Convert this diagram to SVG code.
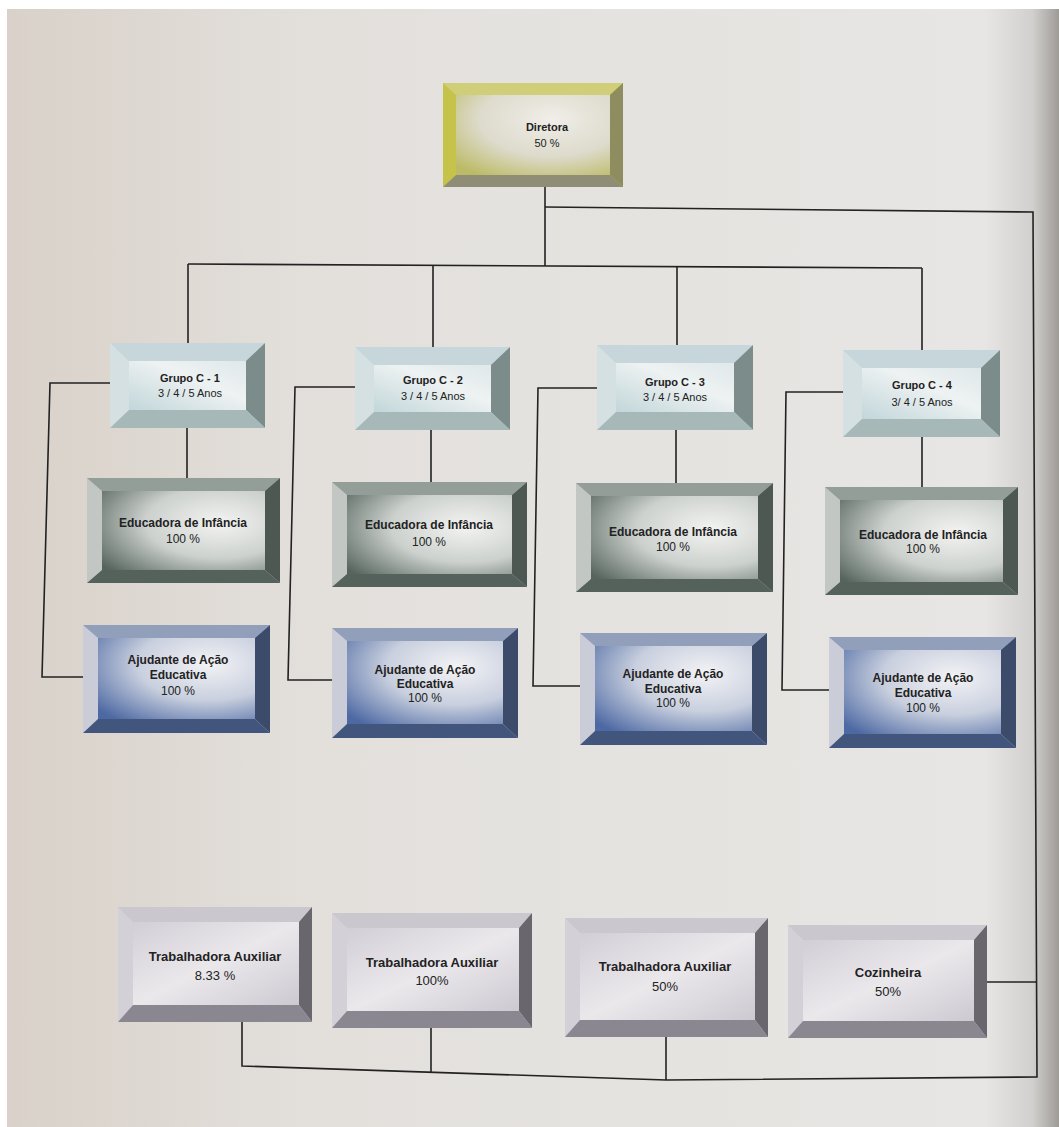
<svg xmlns="http://www.w3.org/2000/svg" width="1059" height="1127" viewBox="0 0 1059 1127">
<defs>
<linearGradient id="paper" gradientUnits="userSpaceOnUse" x1="0" y1="0" x2="1059" y2="0">
<stop offset="0" stop-color="#d9d1c9"/>
<stop offset="0.3" stop-color="#e3e0dc"/>
<stop offset="0.93" stop-color="#e7e6e4"/>
<stop offset="0.975" stop-color="#d2d0ce"/>
<stop offset="1" stop-color="#9e9b97"/>
</linearGradient>
<radialGradient id="gDir" cx="0.62" cy="0.3" r="0.85">
<stop offset="0" stop-color="#f0eee8"/>
<stop offset="0.55" stop-color="#dddbcc"/>
<stop offset="1" stop-color="#bcba64"/>
</radialGradient>
<linearGradient id="gGrp" x1="0" y1="1" x2="1" y2="0">
<stop offset="0" stop-color="#c2d6da"/>
<stop offset="0.6" stop-color="#eef2f2"/>
<stop offset="1" stop-color="#dfe8ea"/>
</linearGradient>
<radialGradient id="gEdu" cx="0.72" cy="0.4" r="0.9">
<stop offset="0" stop-color="#f4f4f2"/>
<stop offset="0.5" stop-color="#ccd1ce"/>
<stop offset="1" stop-color="#56645d"/>
</radialGradient>
<radialGradient id="gAju" cx="0.7" cy="0.32" r="0.9">
<stop offset="0" stop-color="#f3f3f5"/>
<stop offset="0.5" stop-color="#c8cfde"/>
<stop offset="1" stop-color="#4d69a3"/>
</radialGradient>
<linearGradient id="gTrab" x1="0" y1="0" x2="1" y2="1">
<stop offset="0" stop-color="#d2ced6"/>
<stop offset="0.5" stop-color="#ebe8ec"/>
<stop offset="1" stop-color="#cdc9d1"/>
</linearGradient>
<style>
.t{font-family:"Liberation Sans",Arial,sans-serif;font-size:11px;fill:#222;text-anchor:middle}
.m{font-size:12px}
.l{font-size:13px}
.b{font-weight:bold}
.ln{fill:none;stroke:#222;stroke-width:1.6}
.dir .o{fill:#c5c34a}.dir .tp{fill:#d0ce78}.dir .rt{fill:#8e8d60}.dir .bt{fill:#8f8d76}.dir .in{fill:url(#gDir)}
.grp .o{fill:#d4e0e2}.grp .tp{fill:#c6d6da}.grp .rt{fill:#7c8c8a}.grp .bt{fill:#a6b8b8}.grp .in{fill:url(#gGrp)}
.edu .o{fill:#c2c7c4}.edu .tp{fill:#939e98}.edu .rt{fill:#4e5853}.edu .bt{fill:#54625b}.edu .in{fill:url(#gEdu)}
.aju .o{fill:#cacdd8}.aju .tp{fill:#919fbb}.aju .rt{fill:#3d4b6b}.aju .bt{fill:#42567d}.aju .in{fill:url(#gAju)}
.trb .o{fill:#d4d0d8}.trb .tp{fill:#cbc7ce}.trb .rt{fill:#6a666e}.trb .bt{fill:#8b8790}.trb .in{fill:url(#gTrab)}
</style>
</defs>
<rect width="1059" height="1127" fill="#ffffff"/>
<rect x="7" y="9" width="1052" height="1118" fill="url(#paper)"/>

<g id="connectors">
<path class="ln" d="M545,187 V266"/>
<path class="ln" d="M188,264 L922,268"/>
<path class="ln" d="M188,264 V343 M433,265 V347 M677,266 V345 M922,268 V350"/>
<path class="ln" d="M187,428 V478 M431,430 V482 M676,430 V483 M922,437 V487"/>
<path class="ln" d="M110,383 H50 L42,677 H83"/>
<path class="ln" d="M355,387 H295 L288,680 H332"/>
<path class="ln" d="M597,388 H538 L533,686 H580"/>
<path class="ln" d="M843,392 H786 L782,690 H829"/>
<path class="ln" d="M545,207 L1033,212 L1037,1077 L666,1080 L242,1066 V1022"/>
<path class="ln" d="M987,982 H1036"/>
<path class="ln" d="M431,1028 V1072 M666,1037 V1080"/>
</g>

<g id="n-diretora" class="dir">
<rect class="o" x="443" y="83" width="180" height="104"/>
<polygon class="tp" points="443,83 623,83 610,95 456,95"/>
<polygon class="rt" points="623,83 623,187 610,175 610,95"/>
<polygon class="bt" points="443,187 623,187 610,175 456,175"/>
<rect class="in" x="456" y="95" width="154" height="80"/>
<text class="t b" x="547" y="131">Diretora</text>
<text class="t" x="547" y="147">50 %</text>
</g>

<g id="n-grupo1" class="grp">
<rect class="o" x="110" y="343" width="155" height="85"/>
<polygon class="tp" points="110,343 265,343 246,361 129,361"/>
<polygon class="rt" points="265,343 265,428 246,410 246,361"/>
<polygon class="bt" points="110,428 265,428 246,410 129,410"/>
<rect class="in" x="129" y="361" width="117" height="49"/>
<text class="t b" x="190" y="382">Grupo C - 1</text>
<text class="t" x="190" y="397">3 / 4 / 5 Anos</text>
</g>
<g id="n-grupo2" class="grp">
<rect class="o" x="355" y="347" width="155" height="83"/>
<polygon class="tp" points="355,347 510,347 491,365 374,365"/>
<polygon class="rt" points="510,347 510,430 491,412 491,365"/>
<polygon class="bt" points="355,430 510,430 491,412 374,412"/>
<rect class="in" x="374" y="365" width="117" height="47"/>
<text class="t b" x="433" y="384">Grupo C - 2</text>
<text class="t" x="433" y="400">3 / 4 / 5 Anos</text>
</g>
<g id="n-grupo3" class="grp">
<rect class="o" x="597" y="345" width="156" height="85"/>
<polygon class="tp" points="597,345 753,345 734,363 616,363"/>
<polygon class="rt" points="753,345 753,430 734,412 734,363"/>
<polygon class="bt" points="597,430 753,430 734,412 616,412"/>
<rect class="in" x="616" y="363" width="118" height="49"/>
<text class="t b" x="675" y="386">Grupo C - 3</text>
<text class="t" x="675" y="401">3 / 4 / 5 Anos</text>
</g>
<g id="n-grupo4" class="grp">
<rect class="o" x="843" y="350" width="157" height="87"/>
<polygon class="tp" points="843,350 1000,350 981,368 862,368"/>
<polygon class="rt" points="1000,350 1000,437 981,419 981,368"/>
<polygon class="bt" points="843,437 1000,437 981,419 862,419"/>
<rect class="in" x="862" y="368" width="119" height="51"/>
<text class="t b" x="922" y="389">Grupo C - 4</text>
<text class="t" x="922" y="406">3/ 4 / 5 Anos</text>
</g>

<g id="n-edu1" class="edu">
<rect class="o" x="87" y="478" width="193" height="105"/>
<polygon class="tp" points="87,478 280,478 265,491 102,491"/>
<polygon class="rt" points="280,478 280,583 265,570 265,491"/>
<polygon class="bt" points="87,583 280,583 265,570 102,570"/>
<rect class="in" x="102" y="491" width="163" height="79"/>
<text class="t m b" x="183" y="527">Educadora de Infância</text>
<text class="t m" x="183" y="543">100 %</text>
</g>
<g id="n-edu2" class="edu">
<rect class="o" x="332" y="482" width="195" height="105"/>
<polygon class="tp" points="332,482 527,482 512,495 347,495"/>
<polygon class="rt" points="527,482 527,587 512,574 512,495"/>
<polygon class="bt" points="332,587 527,587 512,574 347,574"/>
<rect class="in" x="347" y="495" width="165" height="79"/>
<text class="t m b" x="429" y="529">Educadora de Infância</text>
<text class="t m" x="429" y="546">100 %</text>
</g>
<g id="n-edu3" class="edu">
<rect class="o" x="576" y="483" width="197" height="109"/>
<polygon class="tp" points="576,483 773,483 758,496 591,496"/>
<polygon class="rt" points="773,483 773,592 758,579 758,496"/>
<polygon class="bt" points="576,592 773,592 758,579 591,579"/>
<rect class="in" x="591" y="496" width="167" height="83"/>
<text class="t m b" x="673" y="536">Educadora de Infância</text>
<text class="t m" x="673" y="551">100 %</text>
</g>
<g id="n-edu4" class="edu">
<rect class="o" x="825" y="487" width="193" height="108"/>
<polygon class="tp" points="825,487 1018,487 1003,500 840,500"/>
<polygon class="rt" points="1018,487 1018,595 1003,582 1003,500"/>
<polygon class="bt" points="825,595 1018,595 1003,582 840,582"/>
<rect class="in" x="840" y="500" width="163" height="82"/>
<text class="t m b" x="923" y="539">Educadora de Infância</text>
<text class="t m" x="923" y="553">100 %</text>
</g>

<g id="n-aju1" class="aju">
<rect class="o" x="83" y="625" width="187" height="108"/>
<polygon class="tp" points="83,625 270,625 255,638 98,638"/>
<polygon class="rt" points="270,625 270,733 255,719 255,638"/>
<polygon class="bt" points="83,733 270,733 255,719 98,719"/>
<rect class="in" x="98" y="638" width="157" height="81"/>
<text class="t m b" x="178" y="664">Ajudante de Ação</text>
<text class="t m b" x="178" y="679">Educativa</text>
<text class="t m" x="178" y="695">100 %</text>
</g>
<g id="n-aju2" class="aju">
<rect class="o" x="332" y="628" width="186" height="110"/>
<polygon class="tp" points="332,628 518,628 503,641 347,641"/>
<polygon class="rt" points="518,628 518,738 503,724 503,641"/>
<polygon class="bt" points="332,738 518,738 503,724 347,724"/>
<rect class="in" x="347" y="641" width="156" height="83"/>
<text class="t m b" x="425" y="674">Ajudante de Ação</text>
<text class="t m b" x="425" y="688">Educativa</text>
<text class="t m" x="425" y="702">100 %</text>
</g>
<g id="n-aju3" class="aju">
<rect class="o" x="580" y="633" width="187" height="112"/>
<polygon class="tp" points="580,633 767,633 752,646 595,646"/>
<polygon class="rt" points="767,633 767,745 752,731 752,646"/>
<polygon class="bt" points="580,745 767,745 752,731 595,731"/>
<rect class="in" x="595" y="646" width="157" height="85"/>
<text class="t m b" x="673" y="678">Ajudante de Ação</text>
<text class="t m b" x="673" y="693">Educativa</text>
<text class="t m" x="673" y="707">100 %</text>
</g>
<g id="n-aju4" class="aju">
<rect class="o" x="829" y="637" width="187" height="111"/>
<polygon class="tp" points="829,637 1016,637 1001,650 844,650"/>
<polygon class="rt" points="1016,637 1016,748 1001,734 1001,650"/>
<polygon class="bt" points="829,748 1016,748 1001,734 844,734"/>
<rect class="in" x="844" y="650" width="157" height="84"/>
<text class="t m b" x="923" y="682">Ajudante de Ação</text>
<text class="t m b" x="923" y="697">Educativa</text>
<text class="t m" x="923" y="712">100 %</text>
</g>

<g id="n-trab1" class="trb">
<rect class="o" x="118" y="907" width="194" height="115"/>
<polygon class="tp" points="118,907 312,907 299,922 133,922"/>
<polygon class="rt" points="312,907 312,1022 299,1005 299,922"/>
<polygon class="bt" points="118,1022 312,1022 299,1005 133,1005"/>
<rect class="in" x="133" y="922" width="166" height="83"/>
<text class="t l b" x="215" y="961">Trabalhadora Auxiliar</text>
<text class="t l" x="215" y="980">8.33 %</text>
</g>
<g id="n-trab2" class="trb">
<rect class="o" x="332" y="913" width="200" height="115"/>
<polygon class="tp" points="332,913 532,913 519,928 347,928"/>
<polygon class="rt" points="532,913 532,1028 519,1011 519,928"/>
<polygon class="bt" points="332,1028 532,1028 519,1011 347,1011"/>
<rect class="in" x="347" y="928" width="172" height="83"/>
<text class="t l b" x="432" y="967">Trabalhadora Auxiliar</text>
<text class="t l" x="432" y="985">100%</text>
</g>
<g id="n-trab3" class="trb">
<rect class="o" x="565" y="918" width="203" height="119"/>
<polygon class="tp" points="565,918 768,918 755,933 580,933"/>
<polygon class="rt" points="768,918 768,1037 755,1020 755,933"/>
<polygon class="bt" points="565,1037 768,1037 755,1020 580,1020"/>
<rect class="in" x="580" y="933" width="175" height="87"/>
<text class="t l b" x="665" y="971">Trabalhadora Auxiliar</text>
<text class="t l" x="665" y="991">50%</text>
</g>
<g id="n-cozinheira" class="trb">
<rect class="o" x="788" y="925" width="199" height="113"/>
<polygon class="tp" points="788,925 987,925 974,940 803,940"/>
<polygon class="rt" points="987,925 987,1038 974,1021 974,940"/>
<polygon class="bt" points="788,1038 987,1038 974,1021 803,1021"/>
<rect class="in" x="803" y="940" width="171" height="81"/>
<text class="t l b" x="888" y="977">Cozinheira</text>
<text class="t l" x="888" y="996">50%</text>
</g>
</svg>
